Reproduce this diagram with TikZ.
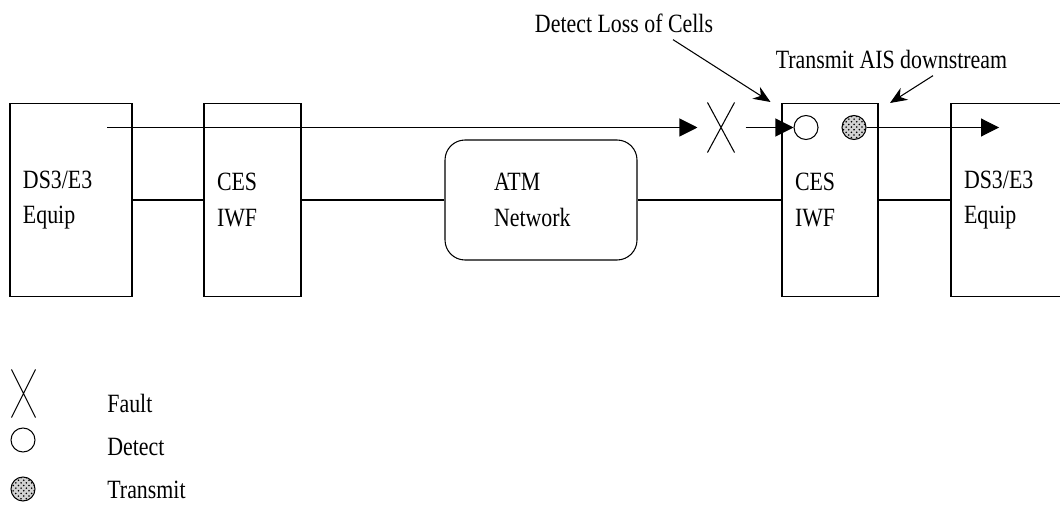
\documentclass[tikz,border=0pt]{standalone}
\usepackage{fontspec}
\setmainfont{Liberation Serif}[FakeStretch=0.83]
\usepackage{tikz}
\usetikzlibrary{arrows.meta,shapes.misc,patterns}

\begin{document}
\begin{tikzpicture}[
  font=\fontsize{15}{20}\selectfont,
  line width=0.6pt,
  box/.style={draw, rectangle, minimum height=3.86cm, inner xsep=0.26cm, align=left},
  cloud/.style={draw, rectangle, rounded corners=0.4cm, minimum height=2.4cm, inner xsep=0.98cm, align=left},
  fault/.style={draw, cross out, inner sep=0pt, minimum width=0.52cm, minimum height=0.98cm},
  detect/.style={draw, circle, inner sep=0pt, minimum size=0.48cm},
  transmit/.style={detect, preaction={fill=gray!35}, pattern=crosshatch dots},
  flow/.style={-{Triangle[length=0.36cm, width=0.36cm]}},
  note/.style={-{Stealth[length=0.34cm, width=0.28cm]}}
]
\useasboundingbox (0,0) rectangle (21.2,-10.08);

% Equipment and interworking boxes
\node[box, text width=1.92cm] (eq1) at (1.42,-4.0) {DS3/E3\\Equip};
\node[box, text width=1.42cm] (iwf1) at (5.05,-4.0) {CES\\IWF};
\node[cloud, text width=1.88cm] (atm) at (10.82,-4.0) {ATM\\Network};
\node[box, text width=1.40cm] (iwf2) at (16.6,-4.0) {CES\\IWF};
\node[box, text width=1.92cm] (eq2) at (20.24,-4.0) {DS3/E3\\Equip};

\draw (eq1) -- (iwf1);
\draw (iwf1) -- (atm);
\draw (atm) -- (iwf2);
\draw (iwf2) -- (eq2);

% Cell stream with fault
\coordinate (src) at (2.14,-2.55);
\node[fault] (cut) at (14.42,-2.55) {};
\node[detect] (det) at (16.12,-2.55) {};
\node[transmit] (tx) at (17.08,-2.55) {};
\coordinate (sink) at (19.98,-2.55);

\draw[flow, shorten >=0.2cm] (src) -- (cut);
\draw[flow, shorten <=0.22cm] (cut) -- (det);
\draw[flow] (tx) -- (sink);

% Annotations
\node[anchor=base] (loss) at (12.48,-0.66) {Detect Loss of Cells};
\node[anchor=base] (ais) at (17.83,-1.38) {Transmit AIS downstream};
\coordinate (lossTip) at (15.41,-2.04);
\coordinate (aisTip) at (17.8,-2.06);
\draw[note] ([xshift=0.98cm]loss.south) -- (lossTip);
\draw[note] ([xshift=0.83cm]ais.south) -- (aisTip);

% Legend
\node[fault, minimum width=0.46cm, minimum height=0.94cm] (keyFault) at (0.47,-7.87) {};
\node[detect] (keyDet) at (0.46,-8.8) {};
\node[transmit] (keyTx) at (0.46,-9.78) {};
\node[anchor=base west] (keyFaultTxt) at (2.02,-8.24) {Fault};
\node[anchor=base west] (keyDetTxt) at (2.02,-9.10) {Detect};
\node[anchor=base west] (keyTxTxt) at (2.02,-9.96) {Transmit};
\end{tikzpicture}
\end{document}
